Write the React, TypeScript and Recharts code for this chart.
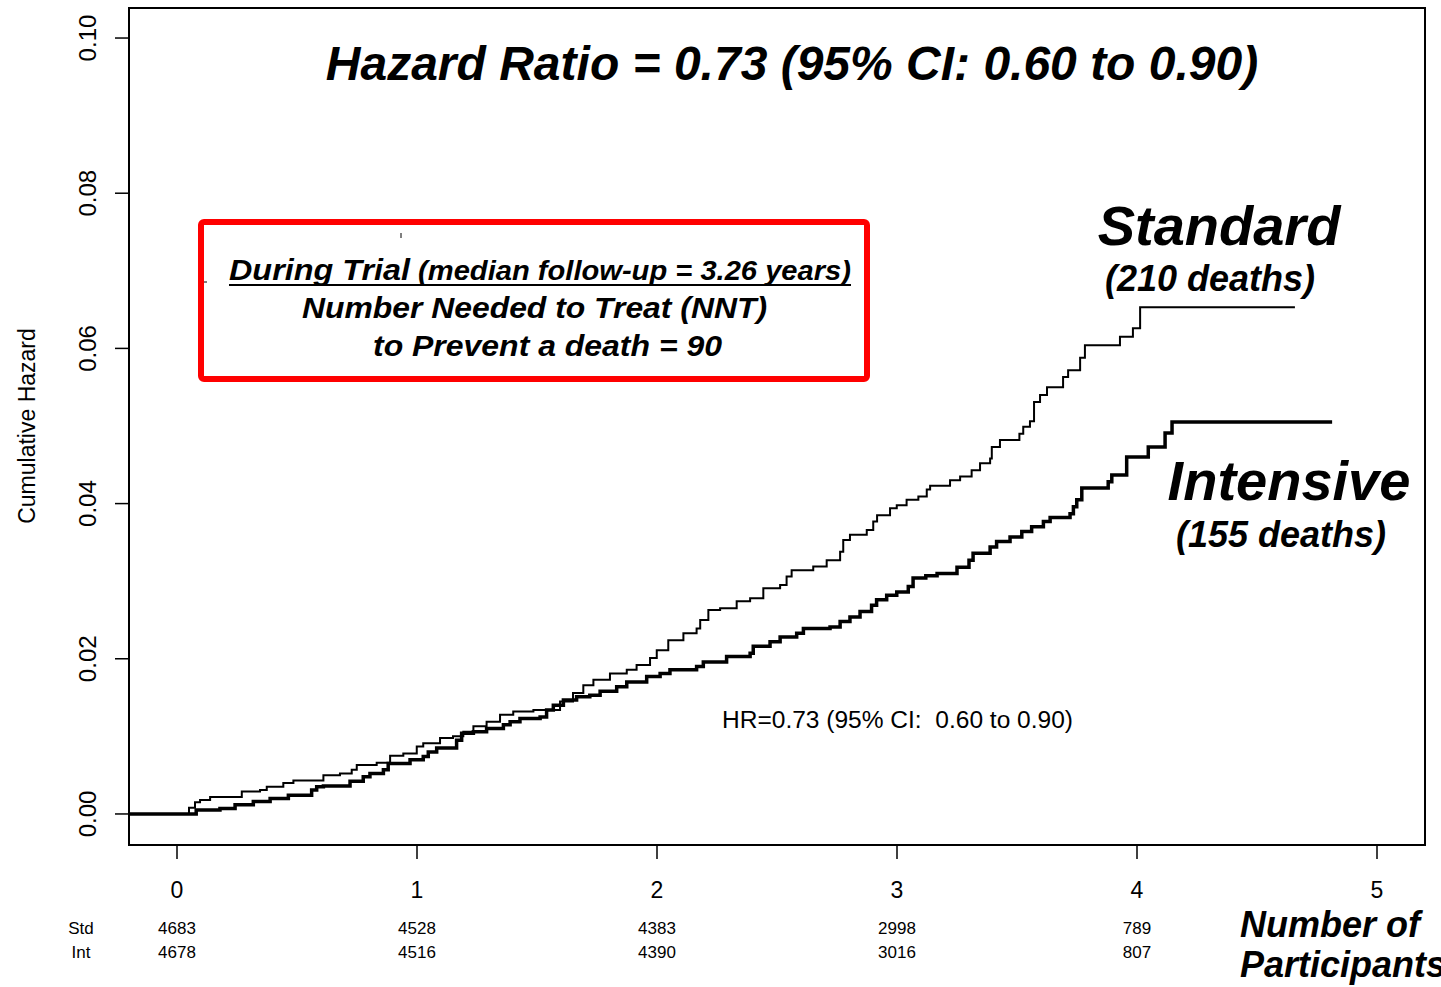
import React from "react";
import { LineChart, Line, XAxis, YAxis, ReferenceArea } from "recharts";

// ---- data ----
const stdTime = [-0.2, 0.05, 0.075, 0.096, 0.138, 0.27, 0.346, 0.374, 0.443, 0.485, 0.61, 0.679, 0.728, 0.749, 0.832, 0.888, 0.943, 0.999, 1.026, 1.096, 1.15, 1.193, 1.235, 1.29, 1.346, 1.401, 1.485, 1.596, 1.65, 1.693, 1.735, 1.804, 1.874, 1.915, 1.971, 1.999, 2.047, 2.11, 2.165, 2.18, 2.214, 2.263, 2.332, 2.388, 2.443, 2.513, 2.54, 2.561, 2.651, 2.707, 2.763, 2.776, 2.804, 2.874, 2.901, 2.917, 2.971, 2.999, 3.04, 3.089, 3.124, 3.138, 3.221, 3.263, 3.311, 3.346, 3.388, 3.395, 3.429, 3.51, 3.526, 3.554, 3.571, 3.596, 3.625, 3.692, 3.713, 3.763, 3.783, 3.929, 3.983, 4.013, 4.658];
const stdHaz = [0, 0.0008, 0.0015, 0.0018, 0.0022, 0.0029, 0.0031, 0.0035, 0.004, 0.0043, 0.005, 0.0052, 0.0057, 0.0063, 0.0066, 0.0075, 0.0078, 0.0087, 0.0091, 0.0098, 0.01, 0.0106, 0.0113, 0.0119, 0.0128, 0.0132, 0.0134, 0.0145, 0.0156, 0.0166, 0.0173, 0.0181, 0.0186, 0.0192, 0.0201, 0.0211, 0.0224, 0.0233, 0.0239, 0.025, 0.0263, 0.0265, 0.0274, 0.0278, 0.0291, 0.0295, 0.0306, 0.0314, 0.0319, 0.0327, 0.0338, 0.0353, 0.036, 0.0366, 0.0377, 0.0385, 0.0394, 0.0398, 0.0405, 0.0409, 0.0418, 0.0423, 0.043, 0.0435, 0.0443, 0.0452, 0.0458, 0.0473, 0.0482, 0.049, 0.0499, 0.0506, 0.0531, 0.054, 0.055, 0.0563, 0.0572, 0.0588, 0.0604, 0.0615, 0.0626, 0.0653, 0.0653];

const intTime = [-0.2, 0.08, 0.179, 0.242, 0.318, 0.388, 0.464, 0.561, 0.582, 0.61, 0.721, 0.776, 0.804, 0.86, 0.88, 0.971, 1.026, 1.047, 1.082, 1.165, 1.186, 1.235, 1.29, 1.36, 1.388, 1.429, 1.513, 1.54, 1.568, 1.61, 1.665, 1.72, 1.763, 1.832, 1.874, 1.957, 2.013, 2.054, 2.165, 2.193, 2.29, 2.388, 2.401, 2.471, 2.513, 2.582, 2.61, 2.721, 2.763, 2.804, 2.846, 2.894, 2.915, 2.957, 2.999, 3.047, 3.067, 3.12, 3.167, 3.25, 3.3, 3.317, 3.388, 3.415, 3.471, 3.52, 3.561, 3.61, 3.638, 3.721, 3.735, 3.749, 3.77, 3.88, 3.895, 3.957, 4.047, 4.117, 4.146, 4.813];
const intHaz = [0, 0.0005, 0.0007, 0.0012, 0.0016, 0.002, 0.0024, 0.0031, 0.0035, 0.0036, 0.0042, 0.0048, 0.0052, 0.0057, 0.0065, 0.007, 0.0074, 0.008, 0.0085, 0.0095, 0.0104, 0.0106, 0.011, 0.0115, 0.0119, 0.0123, 0.0125, 0.0134, 0.014, 0.0147, 0.0151, 0.0153, 0.0158, 0.0164, 0.017, 0.0177, 0.0181, 0.0186, 0.019, 0.0196, 0.0203, 0.0207, 0.0216, 0.0222, 0.0228, 0.0233, 0.0239, 0.0241, 0.0248, 0.0254, 0.0261, 0.0269, 0.0276, 0.0282, 0.0286, 0.0293, 0.0304, 0.0307, 0.031, 0.0318, 0.0327, 0.0336, 0.0344, 0.0351, 0.0357, 0.0364, 0.037, 0.0377, 0.0382, 0.0387, 0.0396, 0.0405, 0.042, 0.0428, 0.0437, 0.046, 0.0473, 0.0491, 0.0505, 0.0505];

const xTicks = [0, 1, 2, 3, 4, 5];
const yTicks = [0, 0.02, 0.04, 0.06, 0.08, 0.1];
const yTickLabels = ["0.00", "0.02", "0.04", "0.06", "0.08", "0.10"];
const atRiskStd = [4683, 4528, 4383, 2998, 789];
const atRiskInt = [4678, 4516, 4390, 3016, 807];

const stdData = stdTime.map((t, i) => ({ t, h: stdHaz[i] }));
const intData = intTime.map((t, i) => ({ t, h: intHaz[i] }));

const FONT = "'Liberation Sans', Arial, sans-serif";
const W = 1441;
const H = 987;

const XTick = (props: any) => {
  const { x, y, payload } = props;
  const i = xTicks.indexOf(payload.value);
  return (
    <g fontFamily={FONT} fill="#000">
      <text x={x} y={y + 37} textAnchor="middle" fontSize={23}>
        {payload.value}
      </text>
      {i >= 0 && i < atRiskStd.length && (
        <text x={x} y={y + 73} textAnchor="middle" fontSize={17}>
          {atRiskStd[i]}
        </text>
      )}
      {i >= 0 && i < atRiskInt.length && (
        <text x={x} y={y + 97} textAnchor="middle" fontSize={17}>
          {atRiskInt[i]}
        </text>
      )}
    </g>
  );
};

const YTick = (props: any) => {
  const { x, y, payload } = props;
  const i = yTicks.indexOf(payload.value);
  const label = i >= 0 ? yTickLabels[i] : String(payload.value);
  const bx = x - 17;
  return (
    <text
      x={bx}
      y={y}
      transform={`rotate(-90 ${bx} ${y})`}
      textAnchor="middle"
      fontSize={24}
      fontFamily={FONT}
      fill="#000"
    >
      {label}
    </text>
  );
};

export default function App() {
  return (
    <div style={{ position: "absolute", left: 0, top: 0, width: W, height: H, background: "#fff" }}>
      <LineChart width={W} height={H} margin={{ top: 8, right: 16, bottom: 42, left: 69 }}>
        <XAxis
          type="number"
          dataKey="t"
          domain={[-0.2, 5.2]}
          ticks={xTicks}
          allowDataOverflow
          axisLine={false}
          tickLine={{ stroke: "#000", strokeWidth: 1.5 }}
          tickSize={14}
          height={100}
          tick={<XTick />}
          interval={0}
        />
        <YAxis
          type="number"
          domain={[-0.004, 0.10387]}
          ticks={yTicks}
          allowDataOverflow
          axisLine={false}
          tickLine={{ stroke: "#000", strokeWidth: 1.5 }}
          tickSize={14}
          width={60}
          tick={<YTick />}
          interval={0}
        />
        <ReferenceArea
          x1={-0.2}
          x2={5.2}
          y1={-0.004}
          y2={0.10387}
          fill="none"
          fillOpacity={0}
          stroke="#000"
          strokeWidth={2}
          ifOverflow="visible"
        />
        <Line
          data={stdData}
          dataKey="h"
          type="stepAfter"
          stroke="#000"
          strokeWidth={2}
          dot={false}
          isAnimationActive={false}
        />
        <Line
          data={intData}
          dataKey="h"
          type="stepAfter"
          stroke="#000"
          strokeWidth={3.5}
          dot={false}
          isAnimationActive={false}
        />
      </LineChart>
      <svg
        width={W}
        height={H}
        style={{ position: "absolute", left: 0, top: 0, pointerEvents: "none" }}
        fontFamily={FONT}
      >
        <text x={792} y={80} textAnchor="middle" fontSize={48} fontWeight="bold" fontStyle="italic">
          Hazard Ratio = 0.73 (95% CI: 0.60 to 0.90)
        </text>
        <text transform="rotate(-90 35 426)" textAnchor="middle" fontSize={23}>
          <tspan x={35} y={426}>Cumulative Hazard</tspan>
        </text>
        <text x={1219} y={245} textAnchor="middle" fontSize={56} fontWeight="bold" fontStyle="italic">
          Standard
        </text>
        <text x={1210} y={291} textAnchor="middle" fontSize={36} fontWeight="bold" fontStyle="italic">
          (210 deaths)
        </text>
        <text x={1289} y={500} textAnchor="middle" fontSize={56} fontWeight="bold" fontStyle="italic">
          Intensive
        </text>
        <text x={1281} y={547} textAnchor="middle" fontSize={36} fontWeight="bold" fontStyle="italic">
          (155 deaths)
        </text>
        <rect x={201} y={222} width={666} height={157} rx={3} fill="none" stroke="#ff0000" strokeWidth={6} />
        <line x1={401} y1={233} x2={401} y2={238} stroke="#000" strokeWidth={1} />
        <line x1={204} y1={282} x2={207} y2={282} stroke="#000" strokeWidth={1} />
        <text
          x={229}
          y={280}
          fontWeight="bold"
          fontStyle="italic"
          textLength={622}
          lengthAdjust="spacingAndGlyphs"
        >
          <tspan fontSize={30}>During Trial</tspan>
          <tspan fontSize={27}> (median follow-up = 3.26 years)</tspan>
        </text>
        <line x1={229} y1={285} x2={851} y2={285} stroke="#000" strokeWidth={2} />
        <text
          x={302}
          y={318}
          fontSize={30}
          fontWeight="bold"
          fontStyle="italic"
          textLength={465}
          lengthAdjust="spacingAndGlyphs"
        >
          Number Needed to Treat (NNT)
        </text>
        <text
          x={373}
          y={356}
          fontSize={30}
          fontWeight="bold"
          fontStyle="italic"
          textLength={349}
          lengthAdjust="spacingAndGlyphs"
        >
          to Prevent a death = 90
        </text>
        <text
          x={722}
          y={728}
          fontSize={23}
          textLength={351}
          lengthAdjust="spacingAndGlyphs"
          style={{ whiteSpace: "pre" }}
        >
          {"HR=0.73 (95% CI:  0.60 to 0.90)"}
        </text>
        <text x={81} y={934} textAnchor="middle" fontSize={17}>Std</text>
        <text x={81} y={958} textAnchor="middle" fontSize={17}>Int</text>
        <text x={1240} y={937} fontSize={36} fontWeight="bold" fontStyle="italic">Number of</text>
        <text x={1240} y={977} fontSize={36} fontWeight="bold" fontStyle="italic">Participants</text>
      </svg>
    </div>
  );
}
